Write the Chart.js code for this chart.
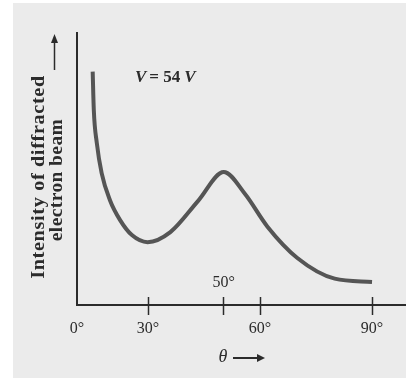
<!DOCTYPE html>
<html>
<head>
<meta charset="utf-8">
<script src="https://cdn.jsdelivr.net/npm/chart.js@4"></script>
<style>
  html, body { margin: 0; padding: 0; background: #fff; }
  #wrap { width: 406px; height: 378px; }
</style>
</head>
<body>
<div id="wrap"><canvas id="curve" width="406" height="378"></canvas></div>
<script>
// scattering angle (deg) and relative intensity
const angles = [15.2, 15.5, 16.3, 17.6, 19.8, 22.5, 25.7, 29.9, 36, 43.5, 50.3, 56, 62, 70, 80, 90];
const intensity = [85.8, 71.7, 59.6, 48.5, 38.6, 31.3, 25.7, 23.1, 26.8, 38.4, 48.9, 40.8, 28.8, 17.3, 9.7, 8.5];

// the "0°" sits at the axis corner, the rest are on a linear scale
const axisOrigin = 11;
const tickValues = [axisOrigin, 30, 50, 60, 90];
const tickLabels = ['0°', '30°', '50°', '60°', '90°'];

const ink = '#2b2b2b';
const serif = '"Liberation Serif", "Times New Roman", serif';

const extras = {
  id: 'extras',
  beforeDraw(chart) {
    const c = chart.ctx;
    c.save();
    c.fillStyle = '#ebebeb';
    c.fillRect(13, 3, chart.width - 13, chart.height - 3);
    c.restore();
  },
  afterDraw(chart) {
    const c = chart.ctx;
    const x = chart.scales.x;
    const area = chart.chartArea;
    c.save();
    c.strokeStyle = ink;
    c.lineWidth = 1.5;
    // tick marks crossing the axis
    tickValues.forEach(v => {
      if (v === axisOrigin) return;
      const px = Math.round(x.getPixelForValue(v)) + 0.5;
      c.beginPath();
      c.moveTo(px, area.bottom - 8);
      c.lineTo(px, area.bottom + 10);
      c.stroke();
    });

    c.fillStyle = ink;
    c.textAlign = 'center';
    c.textBaseline = 'middle';
    // 50° label sits above the axis
    c.font = '16px ' + serif;
    c.fillText(tickLabels[2], x.getPixelForValue(50) + 1, area.bottom - 22);

    // V = 54 V
    c.textAlign = 'left';
    let tx = 135;
    const ty = 78;
    c.font = 'italic bold 17px ' + serif;
    c.fillText('V', tx, ty);
    tx += c.measureText('V').width + 3;
    c.font = 'bold 17px ' + serif;
    c.fillText('= 54', tx, ty);
    tx += c.measureText('= 54').width + 4;
    c.font = 'italic bold 17px ' + serif;
    c.fillText('V', tx, ty);

    // theta title with arrow
    c.textAlign = 'center';
    c.font = 'italic 18px ' + serif;
    c.fillText('θ', 223, 357);
    c.lineWidth = 2;
    c.beginPath();
    c.moveTo(233, 358);
    c.lineTo(260, 358);
    c.stroke();
    c.beginPath();
    c.moveTo(265, 358);
    c.lineTo(257, 354);
    c.lineTo(257, 362);
    c.closePath();
    c.fill();

    // y title, rotated and a little stretched like the original type
    c.font = 'bold 18px ' + serif;
    c.save();
    c.translate(39, 177);
    c.rotate(-Math.PI / 2);
    c.scale(1.12, 1);
    c.letterSpacing = '0.6px';
    c.fillText('Intensity of diffracted', 0, 0);
    c.restore();
    c.save();
    c.translate(57, 180);
    c.rotate(-Math.PI / 2);
    c.scale(1.08, 1);
    c.letterSpacing = '0.4px';
    c.fillText('electron beam', 0, 0);
    c.restore();

    // arrow up
    c.lineWidth = 1.5;
    c.beginPath();
    c.moveTo(54.5, 70);
    c.lineTo(54.5, 40);
    c.stroke();
    c.beginPath();
    c.moveTo(54.5, 34);
    c.lineTo(51, 43);
    c.lineTo(58, 43);
    c.closePath();
    c.fill();
    c.restore();
  }
};

new Chart(document.getElementById('curve'), {
  type: 'line',
  data: {
    datasets: [{
      data: angles.map((a, i) => ({ x: a, y: intensity[i] })),
      borderColor: '#555',
      borderWidth: 4,
      pointRadius: 0,
      cubicInterpolationMode: 'monotone',
      fill: false,
      clip: false
    }]
  },
  options: {
    responsive: false,
    animation: false,
    events: [],
    layout: { padding: { left: 0, top: 33, right: 0, bottom: 0 } },
    plugins: { legend: { display: false }, tooltip: { enabled: false } },
    scales: {
      x: {
        type: 'linear',
        min: axisOrigin,
        max: 99.1,
        afterBuildTicks: scale => { scale.ticks = tickValues.map(v => ({ value: v })); },
        afterFit: scale => { scale.height = 73; },
        grid: { display: false, drawTicks: false },
        border: { color: ink, width: 2 },
        ticks: {
          autoSkip: false,
          maxRotation: 0,
          padding: 14,
          color: ink,
          font: { family: serif, size: 16 },
          callback: v => v === 50 ? '' : tickLabels[tickValues.indexOf(v)]
        }
      },
      y: {
        min: 0,
        max: 100,
        afterFit: scale => { scale.width = 77; },
        grid: { display: false, drawTicks: false },
        border: { color: ink, width: 2 },
        ticks: { display: false }
      }
    }
  },
  plugins: [extras]
});
</script>
</body>
</html>
